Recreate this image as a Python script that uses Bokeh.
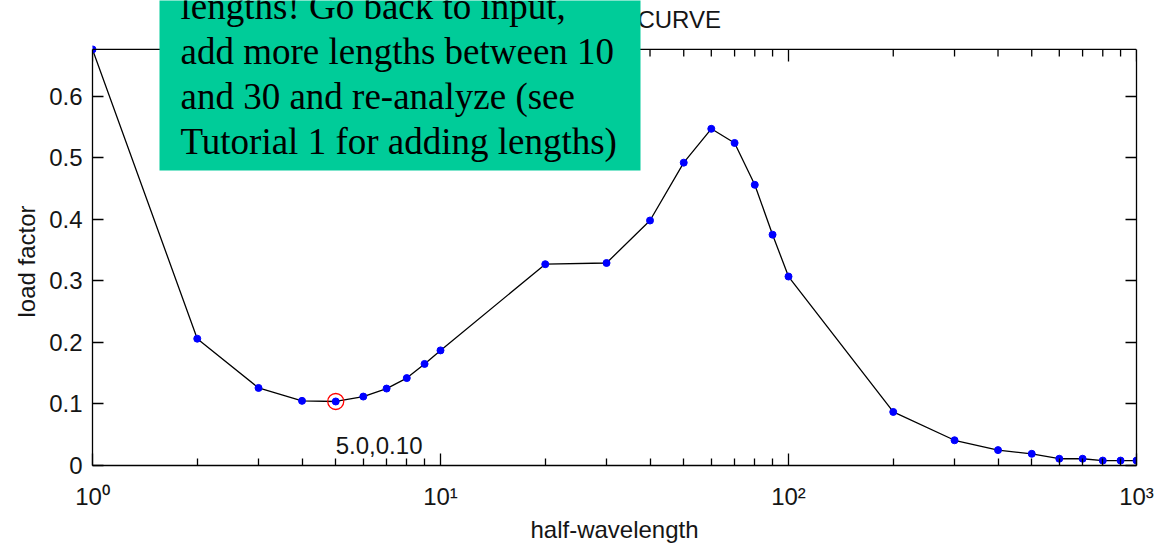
import math
from bokeh.plotting import figure
from bokeh.models import (Range1d, LinearAxis, FixedTicker, Label, Span, Title,
                          BoxAnnotation, ColumnDataSource)
from bokeh.embed import file_html
from bokeh.resources import INLINE

# ---------------- data ----------------
half_wavelength = [1, 2, 3, 4, 5, 6, 7, 8, 9, 10, 20, 30, 40, 50, 60, 70, 80, 90,
                   100, 200, 300, 400, 500, 600, 700, 800, 900, 1000]
load_factor = [0.676, 0.206, 0.126, 0.105, 0.104, 0.112, 0.125, 0.142, 0.165, 0.187,
               0.327, 0.329, 0.398, 0.492, 0.547, 0.524, 0.456, 0.375,
               0.307, 0.087, 0.041, 0.025, 0.019, 0.011, 0.011, 0.008, 0.008, 0.008]
marked_length = 5

x_major_ticks = [1, 10, 100, 1000]
x_tick_labels = ["10\u2070", "10\u00b9", "10\u00b2", "10\u00b3"]
y_ticks = [0, 0.1, 0.2, 0.3, 0.4, 0.5, 0.6]
y_tick_labels = ["0", "0.1", "0.2", "0.3", "0.4", "0.5", "0.6"]
y_axis_top = 0.676

title_text = "BUCKLING CURVE"
x_label_text = "half-wavelength"
y_label_text = "load factor"
note_lines = ["lengths! Go back to input,",
              "add more lengths between 10",
              "and 30 and re-analyze (see",
              "Tutorial 1 for adding lengths)"]

# ---------------- figure ----------------
FONT = "Liberation Sans"
TXT = "#151515"
W, H = 1162, 545
FRAME_L, FRAME_R, AX_TOP, FRAME_B = 92, 1136, 49, 466
# frame runs to the canvas top so the note box can overlap the top border
y_end = y_axis_top * FRAME_B / (FRAME_B - AX_TOP)

p = figure(width=W, height=H, x_axis_type="log",
           x_range=Range1d(1, 1000), y_range=Range1d(0, y_end),
           output_backend="svg", toolbar_location=None,
           min_border_left=FRAME_L, min_border_right=W - FRAME_R,
           min_border_top=0, min_border_bottom=H - FRAME_B)
p.xgrid.visible = False
p.ygrid.visible = False
p.outline_line_color = None
p.background_fill_color = "white"
p.border_fill_color = "white"

x_minor = [m * 10 ** k for k in range(3) for m in range(2, 10)]
xticker = FixedTicker(ticks=x_major_ticks, minor_ticks=x_minor)
yticker = FixedTicker(ticks=y_ticks, minor_ticks=[])


def style(ax):
    ax.axis_line_color = "black"
    ax.axis_line_width = 1.3
    ax.major_tick_line_color = "black"
    ax.minor_tick_line_color = "black"
    ax.major_tick_line_width = 1.3
    ax.minor_tick_line_width = 1.3
    ax.major_tick_out = 0
    ax.minor_tick_out = 0


bottom = p.xaxis[0]
bottom.ticker = xticker
style(bottom)
bottom.major_tick_in = 12
bottom.minor_tick_in = 7
bottom.major_label_overrides = {t: s for t, s in zip(x_major_ticks, x_tick_labels)}
bottom.major_label_text_font = FONT
bottom.major_label_text_font_size = "24px"
bottom.major_label_text_color = TXT
bottom.major_label_standoff = 17
bottom.axis_label = x_label_text
bottom.axis_label_text_font = FONT
bottom.axis_label_text_font_size = "24px"
bottom.axis_label_text_font_style = "normal"
bottom.axis_label_text_color = TXT
bottom.axis_label_standoff = 3

left = p.yaxis[0]
left.ticker = yticker
style(left)
left.bounds = (0, y_axis_top)
left.major_tick_in = 11
left.minor_tick_in = 0
left.major_label_overrides = {t: s for t, s in zip(y_ticks, y_tick_labels)}
left.major_label_text_font = FONT
left.major_label_text_font_size = "24px"
left.major_label_text_color = TXT
left.major_label_standoff = 10

# y-axis label centred on the axes box (not on the taller frame)
p.add_layout(Title(text=y_label_text, align="left", offset=148, vertical_align="top",
                   text_font=FONT, text_font_size="24px", text_font_style="normal",
                   text_color=TXT), "left")

right = LinearAxis(ticker=yticker)
style(right)
right.bounds = (0, y_axis_top)
right.major_tick_in = 11
right.minor_tick_in = 0
right.major_label_text_font_size = "1px"
right.major_label_text_alpha = 0
right.major_label_standoff = 0
p.add_layout(right, "right")

# top border of the axes box with inward ticks
p.add_layout(Span(location=y_axis_top, dimension="width", line_color="black",
                  line_width=1.3))
p.ray(x=x_major_ticks, y=[y_axis_top] * len(x_major_ticks), length=12,
      length_units="screen", angle=-math.pi / 2, line_color="black", line_width=1.3)
p.ray(x=x_minor, y=[y_axis_top] * len(x_minor), length=7,
      length_units="screen", angle=-math.pi / 2, line_color="black", line_width=1.3)

# ---------------- data marks ----------------
src = ColumnDataSource(dict(x=half_wavelength, y=load_factor))
p.line("x", "y", source=src, line_color="black", line_width=1.3)
p.scatter("x", "y", source=src, size=7, fill_color="blue", line_color="blue")

idx = half_wavelength.index(marked_length)
mx, my = half_wavelength[idx], load_factor[idx]
p.scatter([mx], [my], size=16, fill_color=None, line_color="red", line_width=1.3)
p.add_layout(Label(x=mx, y=my, y_offset=-44, text=f"{mx:.1f},{my:.2f}",
                   text_font=FONT, text_font_size="24px", text_color=TXT,
                   text_align="left", text_baseline="alphabetic"))

# title (partly hidden by the note box)
p.add_layout(Label(x=(FRAME_L + FRAME_R) / 2, y=19, x_units="canvas", y_units="canvas",
                   text=title_text, text_font=FONT, text_font_size="24px",
                   text_color=TXT, text_align="center", text_baseline="alphabetic"))

# green note box
p.add_layout(BoxAnnotation(left=159, right=640, top=-5, bottom=170,
                           left_units="canvas", right_units="canvas",
                           top_units="canvas", bottom_units="canvas",
                           fill_color="#00CC99", fill_alpha=1.0, line_color=None))
for i, line in enumerate(note_lines):
    p.add_layout(Label(x=180, y=5.7 + 45 * i, x_units="canvas", y_units="canvas",
                       text=line, text_font="Liberation Serif", text_font_size="37px",
                       text_color="black", text_align="left", text_baseline="alphabetic"))

open("out.html", "w").write(file_html(p, INLINE))
